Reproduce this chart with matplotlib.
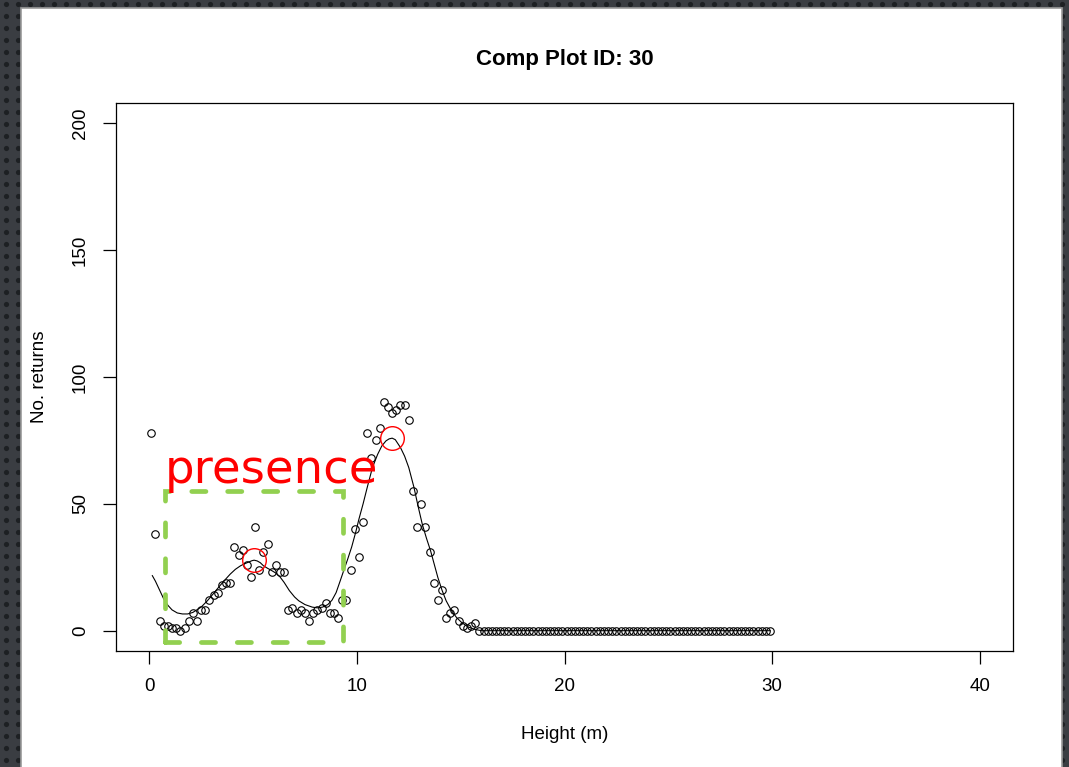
import numpy as np
import matplotlib
matplotlib.use("Agg")
import matplotlib.pyplot as plt
from matplotlib.patches import Rectangle

plt.rcParams['font.family'] = ['Liberation Sans', 'DejaVu Sans']

# Height bins (m), 0.2 m wide, bin centres 0.1 ... 29.9
heights = np.round(np.arange(150) * 0.2 + 0.1, 1)

# Number of returns in each height bin
returns = [
    78, 38, 4, 2, 2, 1, 1, 0, 1, 4, 7, 4, 8, 8, 12,
    14, 15, 18, 19, 19, 33, 30, 32, 26, 21, 41, 24, 31, 34, 23,
    26, 23, 23, 8, 9, 7, 8, 7, 4, 7, 8, 9, 11, 7, 7,
    5, 12, 12, 24, 40, 29, 43, 78, 68, 75, 80, 90, 88, 86, 87,
    89, 89, 83, 55, 41, 50, 41, 31, 19, 12, 16, 5, 7, 8, 4,
    2, 1, 2, 3, 0, 0, 0, 0, 0, 0, 0, 0, 0, 0, 0,
    0, 0, 0, 0, 0, 0, 0, 0, 0, 0, 0, 0, 0, 0, 0,
    0, 0, 0, 0, 0, 0, 0, 0, 0, 0, 0, 0, 0, 0, 0,
    0, 0, 0, 0, 0, 0, 0, 0, 0, 0, 0, 0, 0, 0, 0,
    0, 0, 0, 0, 0, 0, 0, 0, 0, 0, 0, 0, 0, 0, 0,
]

# Smoothed profile through the returns
smooth_x = [0.15, 0.3, 0.5, 0.7, 0.9, 1.1, 1.35, 1.6, 1.85, 2.1, 2.5, 2.8, 3.1,
            3.4, 3.7, 3.9, 4.15, 4.4, 4.6, 4.8, 4.95, 5.05, 5.2, 5.35, 5.5,
            5.7, 5.9, 6.1, 6.3, 6.5, 6.75, 7.0, 7.2, 7.5, 7.85, 8.1, 8.35,
            8.6, 8.8, 9.0, 9.2, 9.4, 9.55, 9.75, 9.95, 10.1, 10.3, 10.5, 10.75,
            11.0, 11.2, 11.4, 11.55, 11.7, 11.85, 12.1, 12.3, 12.5, 12.75,
            12.95, 13.15, 13.35, 13.55, 13.75, 13.9, 14.1, 14.3, 14.55, 14.8,
            15.05, 15.35, 15.7, 16.0, 29.9]
smooth_y = [21.7, 19.5, 16.0, 12.5, 10.0, 8.2, 7.0, 6.6, 6.6, 7.2, 9.3, 11.8,
            14.7, 17.7, 20.5, 22.3, 24.2, 25.6, 26.4, 27.1, 27.6, 27.8, 27.5,
            26.8, 25.6, 24.6, 23.7, 22.7, 21.2, 19.0, 15.8, 13.3, 11.8, 10.3,
            9.3, 9.0, 9.3, 10.3, 12.0, 15.0, 19.7, 24.5, 28.0, 33.0, 39.0, 44.0,
            50.0, 56.5, 64.3, 69.5, 72.8, 74.8, 75.6, 75.9, 75.3, 72.2, 68.8,
            64.3, 56.5, 49.0, 42.0, 36.5, 31.5, 25.5, 21.0, 16.0, 11.8, 8.0,
            5.2, 3.2, 1.5, 0.5, 0.0, 0.0]

# Peaks picked from the profile
peak_x = [5.05, 11.7]
peak_y = [27.8, 75.9]

# Box drawn round the lower canopy
box_x = [0.77, 9.31]
box_y = [-4.3, 54.9]

W, H = 1069, 767
fig = plt.figure(figsize=(W / 100, H / 100), dpi=100)

# dark dotted backdrop with a white sheet on top
bg = fig.add_axes([0, 0, 1, 1], zorder=-1)
bg.set_xlim(0, W)
bg.set_ylim(H, 0)
bg.axis('off')
bg.add_patch(Rectangle((0, 0), W, H, facecolor='#3a3d42', edgecolor='none'))
gx, gy = np.meshgrid(np.arange(6, W, 12), np.arange(4, H, 12))
bg.scatter(gx.ravel(), gy.ravel(), s=14, color='#1d2023', linewidths=0)
bg.add_patch(Rectangle((21, 8), 1041, 770, facecolor='white',
                       edgecolor='#9a9a9a', lw=1.2))

ax = fig.add_axes([116 / W, 1 - 651 / H, (1013 - 116) / W, (651 - 103) / H])
ax.set_facecolor('white')

ax.plot(smooth_x, smooth_y, color='black', lw=0.8, zorder=2)
ax.plot(heights, returns, 'o', ms=5.4, mfc='none', mec='black', mew=0.8, zorder=3)
ax.plot(peak_x, peak_y, 'o', ms=17, mfc='none', mec='red', mew=1.0, zorder=4)

box = Rectangle((box_x[0], box_y[0]), box_x[1] - box_x[0], box_y[1] - box_y[0],
                fill=False, edgecolor='#92d050', lw=3.4,
                linestyle=(0, (3.0, 4.6)), capstyle='round', zorder=5)
ax.add_patch(box)
ax.text(0.75, 58.3, 'presence', color='red', fontsize=33.5, family='DejaVu Sans',
        ha='left', va='baseline', zorder=6)

ax.set_xlim(-1.6, 41.6)
ax.set_ylim(-8, 208)
ax.set_xticks([0, 10, 20, 30, 40])
ax.set_yticks([0, 50, 100, 150, 200])
ax.set_yticklabels(['0', '50', '100', '150', '200'], rotation=90, va='center')
ax.tick_params(length=9.5, width=0.9, labelsize=13.5, pad=10)
for s in ax.spines.values():
    s.set_linewidth(0.9)

ax.set_title('Comp Plot ID: 30', fontsize=16, fontweight='bold', pad=27)
ax.set_xlabel('Height (m)', fontsize=13.5, labelpad=22)
ax.set_ylabel('No. returns', fontsize=13.5, labelpad=17)

fig.savefig('out.png', dpi=100)
